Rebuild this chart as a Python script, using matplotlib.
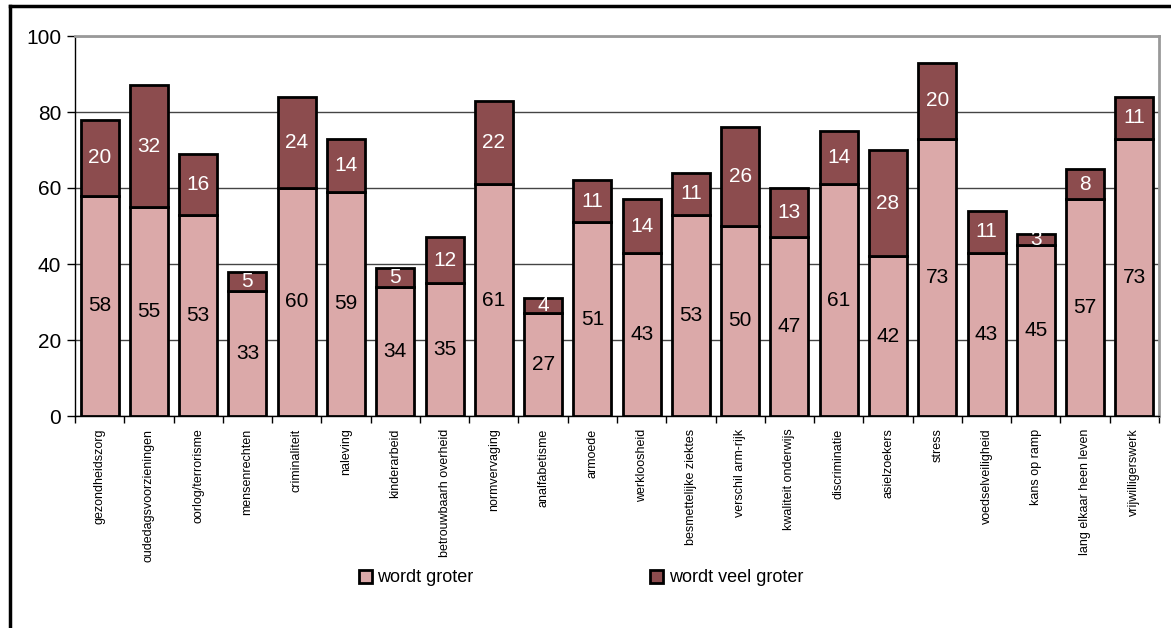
import matplotlib.pyplot as plt
import numpy as np
from matplotlib.lines import Line2D

plt.rcParams['font.family'] = ['Liberation Sans', 'DejaVu Sans']

# --- Data ---
categories = ['gezondheidszorg', 'oudedagsvoorzieningen', 'oorlog/terrorisme', 'mensenrechten',
              'criminaliteit', 'naleving', 'kinderarbeid', 'betrouwbaarh overheid', 'normvervaging',
              'analfabetisme', 'armoede', 'werkloosheid', 'besmettelijke ziektes', 'verschil arm-rijk',
              'kwaliteit onderwijs', 'discriminatie', 'asielzoekers', 'stress', 'voedselveiligheid',
              'kans op ramp', 'lang elkaar heen leven', 'vrijwilligerswerk']
groter = [58, 55, 53, 33, 60, 59, 34, 35, 61, 27, 51, 43, 53, 50, 47, 61, 42, 73, 43, 45, 57, 73]
veel_groter = [20, 32, 16, 5, 24, 14, 5, 12, 22, 4, 11, 14, 11, 26, 13, 14, 28, 20, 11, 3, 8, 11]

PINK = '#DBA9A9'
DARK = '#8C4C4E'

fig = plt.figure(figsize=(11.71, 6.28), dpi=100)
ax = fig.add_axes([75/1171, 1 - 416/628, (1159-75)/1171, (416-36)/628])

x = np.arange(len(categories))
ax.bar(x, groter, width=0.77, color=PINK, edgecolor='black', linewidth=2, zorder=3)
ax.bar(x, veel_groter, width=0.77, bottom=groter, color=DARK, edgecolor='black', linewidth=2, zorder=3)

for i in range(len(categories)):
    ax.text(x[i], groter[i] / 2, str(groter[i]), ha='center', va='center', fontsize=15, color='black', zorder=4)
    ax.text(x[i], groter[i] + veel_groter[i] / 2, str(veel_groter[i]), ha='center', va='center',
            fontsize=15, color='white', zorder=4)

ax.set_xlim(-0.5, len(categories) - 0.5)
ax.set_ylim(0, 100)
ax.set_yticks([0, 20, 40, 60, 80, 100])
ax.tick_params(axis='y', labelsize=15, length=6, width=1, direction='out', pad=4)
ax.grid(axis='y', color='#444444', linewidth=1, zorder=0)

ax.set_xticks(x)
ax.set_xticklabels(categories, rotation=90, fontsize=9, va='top')
ax.tick_params(axis='x', which='major', length=0, pad=9)
ax.set_xticks(np.arange(-0.5, len(categories), 1), minor=True)
ax.tick_params(axis='x', which='minor', length=5, width=1, direction='out')

for s in ['top', 'right']:
    ax.spines[s].set_color('#999999')
    ax.spines[s].set_linewidth(2)
for s in ['left', 'bottom']:
    ax.spines[s].set_color('black')
    ax.spines[s].set_linewidth(1)

handles = [plt.Rectangle((0, 0), 1, 1, facecolor=PINK, edgecolor='black', linewidth=2),
           plt.Rectangle((0, 0), 1, 1, facecolor=DARK, edgecolor='black', linewidth=2)]
fig.legend(handles, ['wordt groter', 'wordt veel groter'], loc='center', ncol=2,
           bbox_to_anchor=(581/1171, 1 - 578/628), frameon=False, fontsize=13,
           columnspacing=9.8, handlelength=0.72, handleheight=0.72, handletextpad=0.3)

# outer border of the figure
fig.add_artist(Line2D([10/1171, 10/1171], [0, 1 - 6/628], color='black', linewidth=2.5))
fig.add_artist(Line2D([10/1171, 1], [1 - 6/628, 1 - 6/628], color='black', linewidth=2.5))

plt.savefig('out.png', dpi=100)
